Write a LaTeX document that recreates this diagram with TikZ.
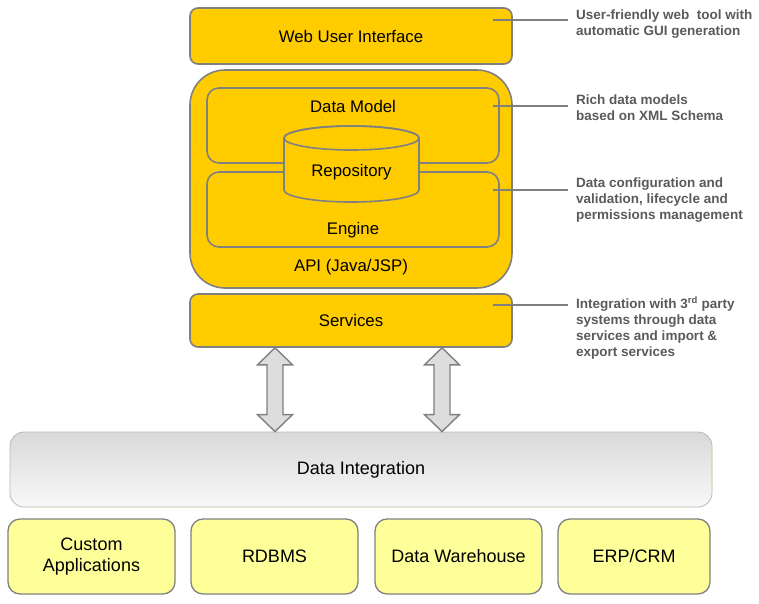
\documentclass[tikz,border=0pt]{standalone}
\usepackage{fontspec}
\setmainfont{Liberation Sans}
\usetikzlibrary{positioning}
\definecolor{gold}{RGB}{255,204,0}
\definecolor{edge}{RGB}{128,128,128}
\definecolor{paleyellow}{RGB}{255,255,153}
\definecolor{notegray}{RGB}{90,90,90}
\definecolor{arrowgray}{RGB}{221,221,221}
\begin{document}
\begin{tikzpicture}[x=1pt,y=-1pt,
    box/.style = {draw=edge,line width=1.6pt,fill=gold,rounded corners=8pt,
                  minimum width=322pt,font=\fontsize{16.8}{20}\selectfont},
    inbox/.style = {box,minimum width=292pt,minimum height=75pt,rounded corners=12pt},
    source/.style = {box,fill=paleyellow,line width=1.3pt,minimum height=75pt,
                     rounded corners=12pt,align=center,font=\fontsize{18}{21}\selectfont},
    lbl/.style = {font=\fontsize{16.8}{20}\selectfont},
    note/.style = {anchor=north west,inner sep=0pt,align=left,text=notegray,
                   font=\fontsize{13.5}{16}\selectfont\bfseries},
    noteline/.style = {draw=edge,line width=1.6pt,shorten >=8pt},
    dblarrow/.style = {draw=edge,line width=1.4pt,fill=arrowgray,line join=miter}]

\useasboundingbox (0,0) rectangle (759,603);

% platform
\node[box,minimum height=56pt] (web) at (351,36) {Web User Interface};
\node[box,minimum height=218pt,rounded corners=35pt] (api) at (351,179) {};
\node[inbox] (model) at (353,125.5) {};
\node[inbox] (engine) at (353,209.5) {};
\draw[draw=edge,line width=1.6pt,fill=gold] (284,138) -- (284,190)
    arc[start angle=180,end angle=0,x radius=67.5,y radius=12] -- (419,138)
    arc[start angle=0,end angle=-180,x radius=67.5,y radius=12] -- cycle;
\draw[draw=edge,line width=1.6pt] (351.5,138) ellipse[x radius=67.5,y radius=12];
\node[lbl] (modellabel) at (353,106) {Data Model};
\node[lbl] (repo) at (351.5,172) {Repository};
\node[lbl] (enginelabel) at (353,230) {Engine};
\node[lbl] (apilabel) at (351,267) {API (Java/JSP)};
\node[box,minimum height=53pt] (services) at (351,320.5) {Services};

% integration layer
\node[box,draw=gray!55,line width=0.8pt,minimum width=702pt,minimum height=75pt,
      rounded corners=14pt,top color=gray!30,bottom color=gray!5,
      font=\fontsize{18}{21}\selectfont]
      (integration) at (361,469.5) {Data Integration};
\node[source,minimum width=167pt] (custom) at (91.5,556.5) {Custom\\Applications};
\node[source,minimum width=167pt] (rdbms) at (274.5,556.5) {RDBMS};
\node[source,minimum width=167pt] (warehouse) at (458.5,556.5) {Data Warehouse};
\node[source,minimum width=152pt] (erp) at (634,556.5) {ERP/CRM};

\foreach \x [count=\i] in {275,442} {
    \coordinate (top\i) at (\x,0 |- services.south);
    \coordinate (bot\i) at (\x,0 |- integration.north);
    \draw[dblarrow] (top\i) -- ++(17.5,17) -- ++(-9.5,0) -- ([shift={(8,-17)}]bot\i)
        -- ++(9.5,0) -- (bot\i) -- ++(-17.5,-17) -- ++(9.5,0)
        -- ([shift={(-8,17)}]top\i) -- ++(-9.5,0) -- cycle;
}

% notes
\node[note] (noteweb) at (576,10) {User-friendly web\ \ tool with\\automatic GUI generation};
\node[note] (notemodel) at (576,95) {Rich data models\\based on XML Schema};
\node[note] (noteengine) at (576,178) {Data configuration and\\validation, lifecycle and\\permissions management};
\node[note] (noteservices) at (576,296) {Integration with 3\textsuperscript{rd} party\\systems through data\\services and import \&\\export services};

\foreach \y/\n in {20/web,106/model,190/engine,305/services} {
    \coordinate (pin\n) at (493,\y);
    \draw[noteline] (pin\n) -- (pin\n -| note\n.west);
}
\end{tikzpicture}
\end{document}
